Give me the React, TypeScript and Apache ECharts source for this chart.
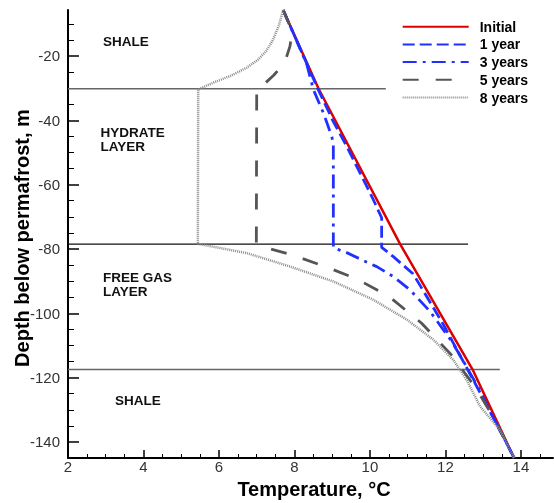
import { useEffect, useRef } from "react";
import * as echarts from "echarts";

// Temperature profiles (depth in m below permafrost, temperature in °C)
const initialDepth = [-5.7, -30.2, -78.5, -117.5, -145];
const initialTemp = [7.7, 8.64, 10.8, 12.72, 13.82];

const year1Depth = [-5.7, -30.2, -40.4, -48.2, -56.4, -64.7, -70.3, -79.5, -82.4, -87.7, -94.3, -103.6, -114.5, -126.9, -145];
const year1Temp = [7.7, 8.62, 9.03, 9.39, 9.74, 10.09, 10.31, 10.31, 10.62, 11.14, 11.48, 11.95, 12.45, 13.02, 13.82];

const year3Depth = [-5.7, -22.3, -30.4, -37.8, -45.1, -47.5, -79.7, -80.9, -83.4, -85.5, -88.6, -92.7, -99.4, -108.8, -115.4, -122.7, -145];
const year3Temp = [7.7, 8.32, 8.5, 8.77, 8.99, 9.03, 9.03, 9.34, 9.79, 10.18, 10.62, 11.06, 11.59, 12.17, 12.5, 12.85, 13.82];

const year5Depth = [-5.7, -10, -14, -17, -20.7, -24, -26, -28.5, -30.2, -78.3, -79.3, -81.6, -85.2, -89.2, -94.8, -103.1, -112.7, -122.8, -133.1, -145];
const year5Temp = [7.7, 7.86, 7.92, 7.88, 7.78, 7.6, 7.45, 7.22, 7.0, 6.99, 7.14, 7.87, 8.75, 9.63, 10.51, 11.37, 12.14, 12.78, 13.31, 13.82];

const year8Depth = [-5.7, -10.4, -15, -18.5, -21.2, -23.6, -26.1, -28.2, -30.4, -78.4, -81.3, -85.5, -90.1, -95.8, -102, -108.2, -114.5, -120.7, -129, -136.2, -145];
const year8Temp = [7.7, 7.59, 7.43, 7.25, 7.03, 6.74, 6.32, 5.87, 5.45, 5.44, 6.74, 7.89, 9.03, 10.09, 10.98, 11.68, 12.21, 12.56, 12.92, 13.44, 13.82];

const seriesNames = ["Initial", "1 year", "3 years", "5 years", "8 years"];

// Layer boundaries: depth and the temperature where each drawn line stops
const boundaryDepth = [-30.2, -78.5, -117.5];
const boundaryEndTemp = [10.42, 12.6, 13.44];

const layerLabels = ["SHALE", "HYDRATE\nLAYER", "FREE GAS\nLAYER", "SHALE"];

const xMajorTicks = [2, 4, 6, 8, 10, 12, 14];
const xMinorTicks = [2.5, 3, 3.5, 4.5, 5, 5.5, 6.5, 7, 7.5, 8.5, 9, 9.5, 10.5, 11, 11.5, 12.5, 13, 13.5, 14.5];
const yMajorTicks = [-140, -120, -100, -80, -60, -40, -20];
const yMinorTicks = [-135, -130, -125, -115, -110, -105, -95, -90, -85, -75, -70, -65, -55, -50, -45, -35, -30, -25, -15, -10];

const FONT = "'Liberation Sans', Arial, sans-serif";

const zip = (t: number[], d: number[]) => t.map((v, i) => [v, d[i]]);

export default function App() {
  const ref = useRef<HTMLDivElement>(null);

  useEffect(() => {
    if (!ref.current) return;
    const chart = echarts.init(ref.current, undefined, { renderer: "svg" });

    const curveStyles = [
      { color: "#dd0000", width: 2.5, type: "solid" as any },
      { color: "#2130ff", width: 2.8, type: [12, 5] },
      { color: "#2130ff", width: 2.8, type: [14, 6, 3, 6] },
      { color: "#555555", width: 2.8, type: [16, 17] },
      { color: "#8a8a8a", width: 2.5, type: [1, 1] },
    ];
    const curveData = [
      zip(initialTemp, initialDepth),
      zip(year1Temp, year1Depth),
      zip(year3Temp, year3Depth),
      zip(year5Temp, year5Depth),
      zip(year8Temp, year8Depth),
    ];

    const boundarySeries = boundaryDepth.map((d, i) => ({
      type: "line",
      name: "boundary" + i,
      data: [
        [2, d],
        [boundaryEndTemp[i], d],
      ],
      symbol: "none",
      silent: true,
      lineStyle: { color: i === 1 ? "#111111" : "#666666", width: i === 1 ? 1.2 : 1.4 },
      z: 1,
    }));

    const curveSeries = seriesNames.map((name, i) => ({
      type: "line",
      name,
      data: curveData[i],
      symbol: "none",
      silent: true,
      lineStyle: curveStyles[i],
      itemStyle: { color: curveStyles[i].color },
      z: 2 + i,
    }));

    const labelStyle = { font: `bold 13.5px ${FONT}`, fill: "#111111" };

    chart.setOption({
      animation: false,
      grid: { left: 68, right: 1, top: 10, bottom: 45 },
      legend: {
        data: seriesNames,
        orient: "vertical",
        left: 401.7,
        top: 19.7,
        padding: 0,
        itemWidth: 66,
        itemHeight: 14,
        itemGap: 3.7,
        itemStyle: { opacity: 0, color: "transparent", borderWidth: 0 },
        textStyle: {
          fontFamily: FONT,
          fontSize: 14,
          fontWeight: "bold",
          color: "#000",
          lineHeight: 14,
          padding: [0, 0, 0, 6],
        },
      },
      xAxis: [
        {
          type: "value",
          min: 2,
          max: 14.85,
          axisLine: { show: true, onZero: false, lineStyle: { color: "#000", width: 2 } },
          axisTick: { show: true, inside: true, length: 8, customValues: xMajorTicks, lineStyle: { color: "#000", width: 1.5 } },
          axisLabel: { customValues: xMajorTicks, color: "#333", fontSize: 15, fontFamily: FONT, margin: 1 },
          splitLine: { show: false },
        },
        {
          type: "value",
          min: 2,
          max: 14.85,
          position: "bottom",
          axisLine: { show: false },
          axisTick: { show: true, inside: true, length: 4, customValues: xMinorTicks, lineStyle: { color: "#000", width: 1 } },
          axisLabel: { show: false },
          splitLine: { show: false },
        },
      ],
      yAxis: [
        {
          type: "value",
          min: -145,
          max: -5.7,
          axisLine: { show: true, onZero: false, lineStyle: { color: "#000", width: 2 } },
          axisTick: { show: true, inside: true, length: 11, customValues: yMajorTicks, lineStyle: { color: "#000", width: 1.5 } },
          axisLabel: { customValues: yMajorTicks, color: "#333", fontSize: 15, fontFamily: FONT, margin: 8 },
          splitLine: { show: false },
        },
        {
          type: "value",
          min: -145,
          max: -5.7,
          position: "left",
          axisLine: { show: false },
          axisTick: { show: true, inside: true, length: 6, customValues: yMinorTicks, lineStyle: { color: "#000", width: 1 } },
          axisLabel: { show: false },
          splitLine: { show: false },
        },
      ],
      series: [...boundarySeries, ...curveSeries],
      graphic: [
        { type: "text", x: 103, y: 41.7, style: { ...labelStyle, text: layerLabels[0], verticalAlign: "middle" } },
        { type: "text", x: 100.5, y: 125.5, style: { ...labelStyle, text: layerLabels[1], lineHeight: 14 } },
        { type: "text", x: 103, y: 270, style: { ...labelStyle, text: layerLabels[2], lineHeight: 14 } },
        { type: "text", x: 115, y: 400.8, style: { ...labelStyle, text: layerLabels[3], verticalAlign: "middle" } },
        {
          type: "text",
          x: 314,
          y: 489,
          style: { text: "Temperature, °C", font: `bold 20px ${FONT}`, fill: "#000", align: "center", verticalAlign: "middle" },
        },
        {
          type: "text",
          x: 22,
          y: 238,
          rotation: Math.PI / 2,
          style: { text: "Depth below permafrost, m", font: `bold 20px ${FONT}`, fill: "#000", align: "center", verticalAlign: "middle" },
        },
      ],
    });

    return () => chart.dispose();
  }, []);

  return <div ref={ref} style={{ position: "fixed", left: 0, top: 0, width: 554, height: 503 }} />;
}
